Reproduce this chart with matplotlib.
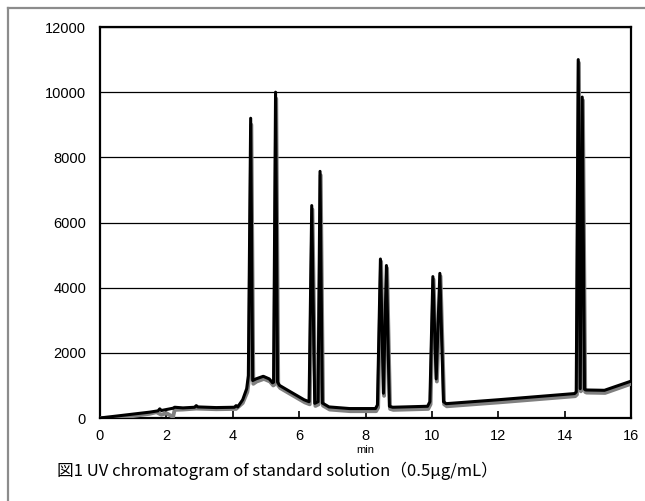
import matplotlib
matplotlib.use("Agg")
import matplotlib.pyplot as plt
from matplotlib.lines import Line2D

# ---- data ----
time_black = [0, 0.5, 1.0, 1.5, 1.75, 1.8, 1.85, 2.0, 2.2, 2.25, 2.5, 2.85, 2.9, 2.95,
              3.5, 4.05, 4.1, 4.15, 4.3, 4.42, 4.47, 4.54, 4.6, 4.7, 4.92, 5.1, 5.2,
              5.23, 5.29, 5.35, 5.41, 5.66, 6.15, 6.3, 6.38, 6.47, 6.57, 6.63, 6.70,
              6.9, 7.52, 8.3, 8.36, 8.45, 8.54, 8.63, 8.72, 8.82, 9.87, 9.94, 10.03,
              10.13, 10.24, 10.35, 10.43, 12.0, 14.3, 14.35, 14.41, 14.47, 14.53,
              14.6, 14.64, 15.2, 16.0]
signal_black = [0, 60, 120, 180, 220, 280, 230, 260, 300, 330, 310, 330, 380, 340,
                320, 330, 380, 340, 560, 900, 1300, 9200, 1150, 1200, 1280, 1200, 1080,
                1100, 10000, 1100, 1000, 850, 560, 500, 6520, 450, 500, 7570, 460,
                340, 290, 290, 400, 4880, 760, 4680, 360, 330, 360, 500, 4340,
                1200, 4440, 500, 440, 560, 750, 800, 11000, 900, 9850,
                880, 860, 850, 1130]

time_gray = [0, 0.5, 1.0, 1.5, 1.7, 1.85, 2.0, 2.2, 2.25, 2.5, 2.9, 3.5, 4.1, 4.3,
             4.44, 4.49, 4.56, 4.62, 4.72, 4.94, 5.12, 5.22, 5.25, 5.31, 5.37, 5.43,
             5.68, 6.17, 6.32, 6.40, 6.49, 6.59, 6.65, 6.72, 6.92, 7.54, 8.32, 8.38,
             8.47, 8.56, 8.65, 8.74, 8.84, 9.89, 9.96, 10.05, 10.15, 10.26, 10.37,
             10.45, 12.02, 14.32, 14.37, 14.43, 14.49, 14.55, 14.62, 14.66, 15.22, 16.0]
signal_gray = [0, 10, 60, 130, 180, 100, 150, 30, 250, 260, 290, 270, 280, 460,
               800, 1200, 9000, 1050, 1120, 1200, 1120, 1000, 1020, 9800, 1000, 920,
               770, 480, 420, 6400, 370, 420, 7450, 380, 260, 210, 210, 320,
               4800, 680, 4600, 280, 250, 280, 420, 4250, 1120, 4350, 420,
               360, 480, 670, 720, 10900, 820, 9750, 800, 780, 770, 1050]

x_ticks = [0, 2, 4, 6, 8, 10, 12, 14, 16]
y_ticks = [0, 2000, 4000, 6000, 8000, 10000, 12000]
x_label = "min"
caption = "図1 UV chromatogram of standard solution（0.5μg/mL）"

# ---- figure ----
fig = plt.figure(figsize=(6.45, 5.01), dpi=100)
fig.patch.set_facecolor("white")

# outer gray frame (top and left edges visible)
fig.add_artist(Line2D([8 / 645, 1.0], [1 - 8 / 501, 1 - 8 / 501],
                      transform=fig.transFigure, color="#8c8c8c", lw=1.6))
fig.add_artist(Line2D([8 / 645, 8 / 645], [0, 1 - 8 / 501],
                      transform=fig.transFigure, color="#8c8c8c", lw=1.6))

ax = fig.add_axes([100 / 645, 83 / 501, 531 / 645, 391 / 501])
ax.plot(time_gray, signal_gray, color="#808080", lw=2.8, solid_joinstyle="round", zorder=3)
ax.plot(time_black, signal_black, color="#000000", lw=2.2, solid_joinstyle="round", zorder=4)

ax.set_xlim(0, 16)
ax.set_ylim(0, 12000)
ax.set_xticks(x_ticks)
ax.set_yticks(y_ticks)
ax.set_xticklabels([str(v) for v in x_ticks])
ax.set_yticklabels([str(v) for v in y_ticks])
ax.yaxis.grid(True, color="black", lw=0.9)
ax.set_axisbelow(True)

for s in ax.spines.values():
    s.set_linewidth(1.6)
    s.set_color("black")

tick_font = "Liberation Sans"
ax.tick_params(axis="x", direction="in", length=5, width=1.2, pad=8, labelsize=10.5)
ax.tick_params(axis="y", length=0, pad=10, labelsize=10.5)
for lab in ax.get_xticklabels() + ax.get_yticklabels():
    lab.set_fontfamily(tick_font)

fig.text(365 / 645, 1 - 450 / 501, x_label, ha="center", va="center",
         fontsize=8, family=tick_font)
fig.text(277 / 645, 1 - 471 / 501, caption, ha="center", va="center",
         fontsize=12, family=["Noto Sans CJK JP", "DejaVu Sans"])

fig.savefig("out.png", dpi=100, facecolor="white")
